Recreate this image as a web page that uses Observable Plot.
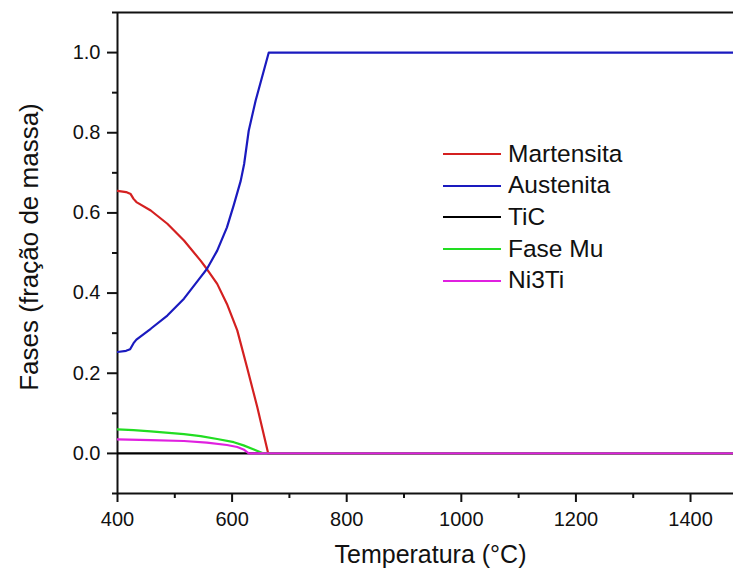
<!DOCTYPE html>
<html><head><meta charset="utf-8">
<script src="https://cdn.jsdelivr.net/npm/d3@7"></script>
<script src="https://cdn.jsdelivr.net/npm/@observablehq/plot@0.6"></script>
<style>
body{margin:0;background:#fff;}
#wrap{position:relative;width:733px;height:572px;overflow:hidden;font-family:"Liberation Sans",Arial,sans-serif;background:#fff;}
#legend{position:absolute;left:443px;top:138px;}
.row{display:flex;align-items:center;height:31.7px;}
.sw{width:58px;height:2px;margin-right:7px;}
.lab{font-size:24.5px;color:#111;line-height:1;}
</style></head><body><div id="wrap"><div id="legend"></div></div>
<script>
// Series (temperature °C, mass fraction)
const martT = [400, 415, 423, 428, 433, 458, 487, 516, 545, 556, 574, 591, 609, 626, 644, 663, 1500];
const martV = [0.655, 0.652, 0.647, 0.635, 0.627, 0.606, 0.573, 0.531, 0.481, 0.46, 0.423, 0.373, 0.307, 0.215, 0.115, 0, 0];
const austT = [400, 415, 422, 428, 433, 458, 487, 516, 545, 556, 574, 591, 603, 615, 621, 629, 641, 664, 1500];
const austV = [0.253, 0.256, 0.260, 0.275, 0.284, 0.311, 0.344, 0.386, 0.44, 0.46, 0.506, 0.564, 0.62, 0.68, 0.722, 0.805, 0.88, 1.0, 1.0];
const ticT = [400, 1500];
const ticV = [0, 0];
const muT = [400, 428, 458, 516, 545, 574, 603, 620, 638, 655, 1500];
const muV = [0.060, 0.058, 0.055, 0.048, 0.043, 0.036, 0.028, 0.020, 0.010, 0, 0];
const niT = [400, 458, 516, 556, 591, 609, 620, 629, 1500];
const niV = [0.035, 0.033, 0.031, 0.027, 0.021, 0.016, 0.010, 0, 0];

const names = ["Martensita", "Austenita", "TiC", "Fase Mu", "Ni3Ti"];
const colors = ["#d42020", "#1a1abf", "#000000", "#22dd22", "#e020e0"];

const xMajor = [400, 600, 800, 1000, 1200, 1400];
const xMinor = [500, 700, 900, 1100, 1300];
const yMajor = [0, 0.2, 0.4, 0.6, 0.8, 1.0];
const yMinor = [-0.1, 0.1, 0.3, 0.5, 0.7, 0.9, 1.1];

const xTitle = "Temperatura (°C)";
const yTitle = "Fases (fração de massa)";

const toRows = (T, V) => T.map((t, i) => ({T: t, v: V[i]}));
const series = [
  toRows(martT, martV),
  toRows(austT, austV),
  toRows(ticT, ticV),
  toRows(muT, muV),
  toRows(niT, niV)
];
// draw order: Martensita, Austenita, TiC, Fase Mu, Ni3Ti (on top)
const lineMarks = series.map((rows, i) =>
  Plot.line(rows, {x: "T", y: "v", stroke: colors[i], strokeWidth: 2.2, clip: true}));

const font = "Liberation Sans, Arial, sans-serif";
const plot = Plot.plot({
  width: 733, height: 572,
  marginLeft: 117, marginRight: 0, marginTop: 12, marginBottom: 79,
  style: {fontFamily: font, background: "white", color: "#111", overflow: "visible"},
  x: {domain: [400, 1475]},
  y: {domain: [-0.1, 1.1]},
  marks: [
    Plot.axisY(yMajor, {tickSize: 10, tickPadding: 7, fontSize: 20, strokeWidth: 2, tickFormat: d3.format(".1f"), label: null}),
    Plot.axisY(yMinor, {tickSize: 5, text: null, strokeWidth: 2, label: null}),
    Plot.axisX(xMajor, {tickSize: 9, tickPadding: 9, fontSize: 20, strokeWidth: 2, tickFormat: d3.format("d"), label: null}),
    Plot.axisX(xMinor, {tickSize: 5, text: null, strokeWidth: 2, label: null}),
    Plot.ruleX([400], {strokeWidth: 2, stroke: "#111"}),
    Plot.ruleY([-0.1, 1.1], {strokeWidth: 2, stroke: "#111"}),
    ...lineMarks,
    Plot.text([xTitle], {text: d => d, frameAnchor: "bottom", textAnchor: "middle", dy: 69, dx: 5, fontSize: 25, fill: "#111"}),
    Plot.text([yTitle], {text: d => d, frameAnchor: "left", textAnchor: "middle", rotate: -90, dx: -88, dy: -6, fontSize: 26, fill: "#111"})
  ]
});
const wrap = document.getElementById("wrap");
wrap.insertBefore(plot, wrap.firstChild);

const legend = document.getElementById("legend");
names.forEach((n, i) => {
  const row = document.createElement("div");
  row.className = "row";
  const sw = document.createElement("div");
  sw.className = "sw";
  sw.style.background = colors[i];
  const lab = document.createElement("span");
  lab.className = "lab";
  lab.textContent = n;
  row.appendChild(sw); row.appendChild(lab);
  legend.appendChild(row);
});
</script></body></html>
